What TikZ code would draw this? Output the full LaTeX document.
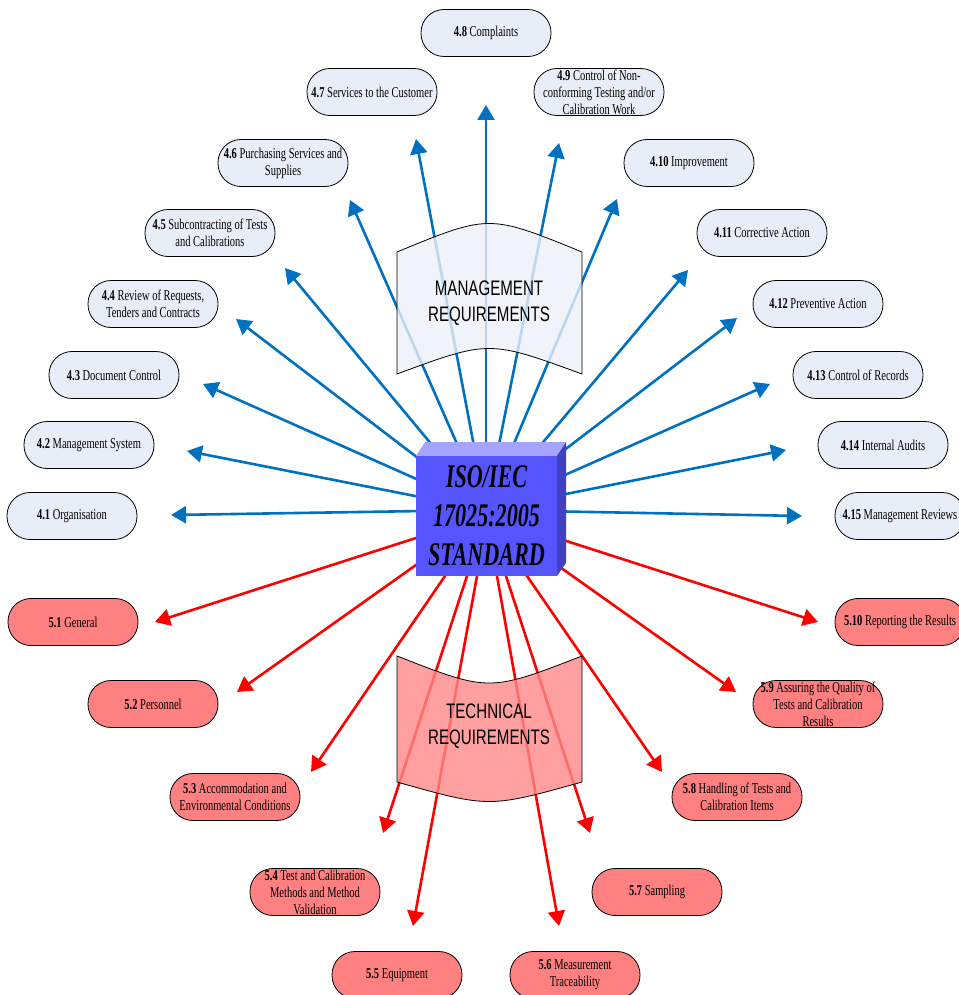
\documentclass[tikz,border=0pt]{standalone}
\usepackage{fontspec}
\setmainfont{Liberation Serif}
\newfontfamily\labelfont[FakeStretch=0.7]{Liberation Serif}
\newfontfamily\bannerfont[FakeStretch=0.72]{Liberation Sans}
\newfontfamily\stdfont[FakeStretch=0.67]{Liberation Serif}
\usetikzlibrary{arrows.meta, positioning}
\definecolor{mgmtfill}{RGB}{232,238,248}
\definecolor{techfill}{RGB}{255,128,128}
\definecolor{arrowblue}{RGB}{0,112,192}
\definecolor{stdblue}{RGB}{85,85,255}
\definecolor{stdtop}{RGB}{165,165,255}
\definecolor{stdside}{RGB}{64,64,192}
\definecolor{mgmtband}{RGB}{236,240,247}
\definecolor{techband}{RGB}{255,135,135}

\begin{document}
\begin{tikzpicture}[
        x=1pt, y=-1pt,
        mgmt/.style={rectangle, draw=black, fill=mgmtfill, rounded corners=23pt, minimum width=130pt, minimum height=47pt, inner sep=1pt, line width=0.8pt, align=center, font=\labelfont\fontsize{15}{17}\selectfont},
        tech/.style={mgmt, fill=techfill},
        mgmtarrow/.style={-{Triangle[length=15pt,width=17pt]}, line width=2.6pt, arrowblue},
        techarrow/.style={-{Triangle[length=15pt,width=17pt]}, line width=2.6pt, red, shorten <=-6pt},
        banner/.style={draw=black, line width=0.8pt, fill opacity=0.8},
        bannertext/.style={align=center, font=\bannerfont\fontsize{21}{26}\selectfont},
        stdbox/.style={rectangle, fill=stdblue, minimum width=141pt, minimum height=120pt, inner sep=0pt, align=center, font=\stdfont\bfseries\itshape\fontsize{33}{39}\selectfont}
    ]
        \useasboundingbox (0,0) rectangle (958,995);

        % arrow ends
        \coordinate (hub) at (486,510);
        \foreach \n/\x/\y in {41/171/515, 42/187/451, 43/203/384, 44/236/319, 45/285/268,
                              46/350/200, 47/416/139, 48/486/105, 49/559/143, 410/617/199,
                              411/688/270, 412/737/318, 413/770/384, 414/786/450, 415/802/516}
            \coordinate (t\n) at (\x,\y);
        \foreach \n/\x/\y/\u/\v in {51/416/538/155/622, 52/416/565/237/692, 53/445/576/311/772,
                                    54/467/576/383/833, 55/477/576/413/926, 56/497/576/559/926,
                                    57/506/576/590/833, 58/527/576/662/772, 59/557/565/736/692,
                                    510/557/538/818/622}
        {
            \coordinate (s\n) at (\x,\y);
            \coordinate (t\n) at (\u,\v);
        }

        % connectors
        \foreach \n in {41,42,43,44,45,46,47,48,49,410,411,412,413,414,415}
            \draw[mgmtarrow] (hub) -- (t\n);
        \foreach \n in {51,52,53,54,55,56,57,58,59,510}
            \draw[techarrow] (s\n) -- (t\n);

        % banners
        \draw[banner, fill=mgmtband] (397,252) .. controls (489,214) .. (582,252) -- (582,374) .. controls (489,340) .. (397,374) -- cycle;
        \node[bannertext] (mgmtlabel) at (489,303) {MANAGEMENT\\REQUIREMENTS};
        \draw[banner, fill=techband] (397,656) .. controls (489,692) .. (582,656) -- (582,782) .. controls (489,808) .. (397,782) -- cycle;
        \node[bannertext] (techlabel) at (489,726) {TECHNICAL\\REQUIREMENTS};

        % standard block
        \fill[stdtop] (416,456) -- (425,442) -- (566,442) -- (557,456) -- cycle;
        \fill[stdside] (557,456) -- (566,442) -- (566,563) -- (557,576) -- cycle;
        \node[stdbox] (std) at (486.5,516) {ISO/IEC\\17025:2005\\STANDARD};

        % management requirements
        \node[mgmt] (m41) at (72,516) {\textbf{4.1} Organisation};
        \node[mgmt] (m42) at (89,445) {\textbf{4.2} Management System};
        \node[mgmt] (m43) at (114,375) {\textbf{4.3} Document Control};
        \node[mgmt] (m44) at (153,304) {\textbf{4.4} Review of Requests,\\Tenders and Contracts};
        \node[mgmt] (m45) at (210,233) {\textbf{4.5} Subcontracting of Tests\\and Calibrations};
        \node[mgmt] (m46) at (283,163) {\textbf{4.6} Purchasing Services and\\Supplies};
        \node[mgmt] (m47) at (372,92) {\textbf{4.7} Services to the Customer};
        \node[mgmt] (m48) at (486,33) {\textbf{4.8} Complaints};
        \node[mgmt] (m49) at (599,92) {\textbf{4.9} Control of Non-\\conforming Testing and/or\\Calibration Work};
        \node[mgmt] (m410) at (689,163) {\textbf{4.10} Improvement};
        \node[mgmt] (m411) at (762,233) {\textbf{4.11} Corrective Action};
        \node[mgmt] (m412) at (818,304) {\textbf{4.12} Preventive Action};
        \node[mgmt] (m413) at (858,375) {\textbf{4.13} Control of Records};
        \node[mgmt] (m414) at (883,445) {\textbf{4.14} Internal Audits};
        \node[mgmt] (m415) at (900,516) {\textbf{4.15} Management Reviews};

        % technical requirements
        \node[tech] (r51) at (73,622) {\textbf{5.1} General};
        \node[tech] (r52) at (153,704) {\textbf{5.2} Personnel};
        \node[tech] (r53) at (235,797) {\textbf{5.3} Accommodation and\\Environmental Conditions};
        \node[tech] (r54) at (315,892) {\textbf{5.4} Test and Calibration\\Methods and Method\\Validation};
        \node[tech] (r55) at (397,975) {\textbf{5.5} Equipment};
        \node[tech] (r56) at (575,975) {\textbf{5.6} Measurement\\Traceability};
        \node[tech] (r57) at (657,892) {\textbf{5.7} Sampling};
        \node[tech] (r58) at (737,797) {\textbf{5.8} Handling of Tests and\\Calibration Items};
        \node[tech] (r59) at (818,704) {\textbf{5.9} Assuring the Quality of\\Tests and Calibration\\Results};
        \node[tech] (r510) at (900,622) {\textbf{5.10} Reporting the Results};
    \end{tikzpicture}
\end{document}
